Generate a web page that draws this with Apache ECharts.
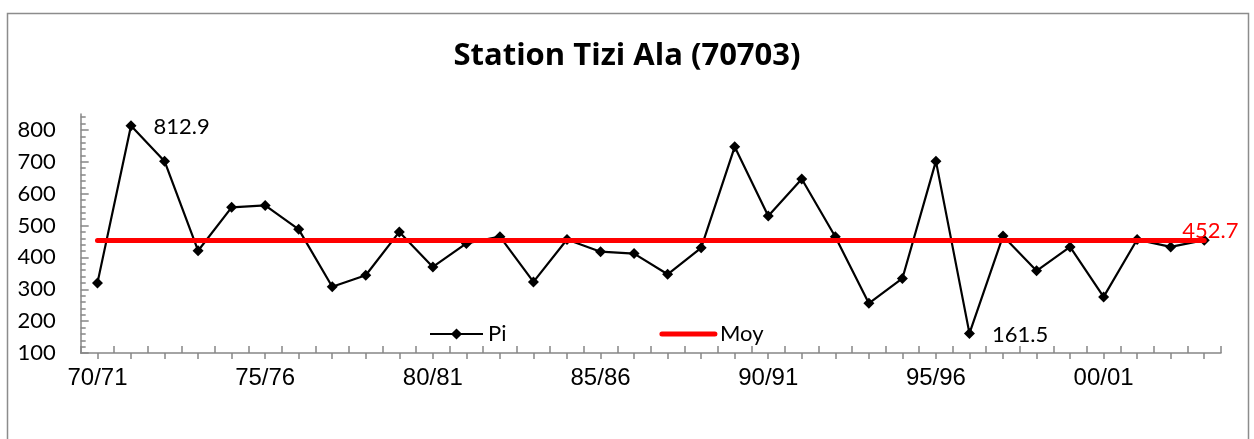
<!DOCTYPE html>
<html><head><meta charset="utf-8">
<script src="https://cdn.jsdelivr.net/npm/echarts@6/dist/echarts.min.js"></script>
<style>html,body{margin:0;padding:0;background:#fff}#c{width:1254px;height:439px}</style>
</head><body><div id="c"></div>
<script>
const years = ['70/71','71/72','72/73','73/74','74/75','75/76','76/77','77/78','78/79','79/80',
  '80/81','81/82','82/83','83/84','84/85','85/86','86/87','87/88','88/89','89/90',
  '90/91','91/92','92/93','93/94','94/95','95/96','96/97','97/98','98/99','99/00',
  '00/01','01/02','02/03','03/04'];
const pi = [320, 812.9, 702, 421, 557, 563, 488, 308, 344, 480,
  370, 444, 465, 323, 456, 418, 412, 347, 430, 747,
  530, 646, 465, 256, 334, 702, 161.5, 467, 358, 433,
  276, 456, 433, 454];
const moy = [452.7,452.7,452.7,452.7,452.7,452.7,452.7,452.7,452.7,452.7,
  452.7,452.7,452.7,452.7,452.7,452.7,452.7,452.7,452.7,452.7,
  452.7,452.7,452.7,452.7,452.7,452.7,452.7,452.7,452.7,452.7,
  452.7,452.7,452.7,452.7];
const labeledPoints = [1, 26];
const yMajor = [100,200,300,400,500,600,700,800];
const yMinor = [120,140,160,180,220,240,260,280,320,340,360,380,420,440,460,480,520,540,560,580,620,640,660,680,720,740,760,780,820,840];

const AX = '#868686';
const chart = echarts.init(document.getElementById('c'), null, {renderer:'canvas'});
const piData = pi.map((v,i) => labeledPoints.includes(i) ? {
  value: v,
  label: {show:true, position:'right', distance:17, offset:[0, i===26 ? 2 : 1],
    fontFamily:'Lato', fontSize:22, color:'#000', formatter: p => String(p.value)}
} : v);

chart.setOption({
  animation: false,
  graphic: [{type:'rect', shape:{x:7.5, y:13.5, width:1241, height:440}, style:{fill:'none', stroke:'#8c8c8c', lineWidth:1.5}, silent:true}],
  title: {text:'Station Tizi Ala (70703)', left:'center', top:36,
    textStyle:{fontFamily:'Open Sans', fontWeight:'bold', fontSize:31, color:'#000'}},
  legend: {left:424, top:318, itemWidth:53, itemHeight:14, itemGap:153,
    textStyle:{fontFamily:'Lato', fontSize:22, color:'#000'},
    data:['Pi', {name:'Moy', itemStyle:{opacity:0}, lineStyle:{width:5, color:'#ff0000', cap:'round'}}]},
  grid: {left:80.7, right:33, top:114, bottom:86, containLabel:false},
  xAxis: [{
    type:'category', data:years, boundaryGap:true, position:'bottom',
    axisLine:{lineStyle:{color:AX, width:1.5}},
    axisTick:{show:true, inside:true, length:7, interval:0, alignWithLabel:false, lineStyle:{color:AX, width:1.5}},
    axisLabel:{interval:4, margin:13, fontFamily:'Liberation Sans', fontSize:24, color:'#000'},
    splitLine:{show:false}
  },{
    type:'category', data:years, boundaryGap:true, position:'bottom',
    axisLine:{show:false},
    axisTick:{show:true, inside:false, length:6, interval:0, alignWithLabel:true, lineStyle:{color:AX, width:1.5}},
    axisLabel:{show:false}, splitLine:{show:false}
  }],
  yAxis: [{
    type:'value', min:100, max:850, position:'left',
    axisLine:{show:true, lineStyle:{color:AX, width:1.5}},
    axisTick:{show:true, inside:true, length:8, customValues:yMajor, lineStyle:{color:AX, width:1.5}},
    axisLabel:{customValues:yMajor, margin:25, fontFamily:'Lato', fontSize:22, color:'#000'},
    splitLine:{show:false}
  },{
    type:'value', min:100, max:850, position:'left',
    axisLine:{show:false},
    axisTick:{show:true, inside:true, length:5, customValues:yMinor, lineStyle:{color:AX, width:1.5}},
    axisLabel:{show:false}, splitLine:{show:false}
  }],
  series: [{
    name:'Pi', type:'line', data:piData, xAxisIndex:0, yAxisIndex:0,
    symbol:'diamond', symbolSize:11, showSymbol:true,
    lineStyle:{color:'#000', width:2.2}, itemStyle:{color:'#000'},
    emphasis:{disabled:true}, z:2
  },{
    name:'Moy', type:'line', data:moy, xAxisIndex:0, yAxisIndex:0,
    symbol:'none', lineStyle:{color:'#ff0000', width:5, cap:'round'}, itemStyle:{color:'#ff0000'},
    endLabel:{show:true, formatter: p => String(p.value), fontFamily:'Lato', fontSize:22, color:'#ff0000', distance:5, offset:[-27,-10]},
    emphasis:{disabled:true}, z:3
  }]
});
</script></body></html>
